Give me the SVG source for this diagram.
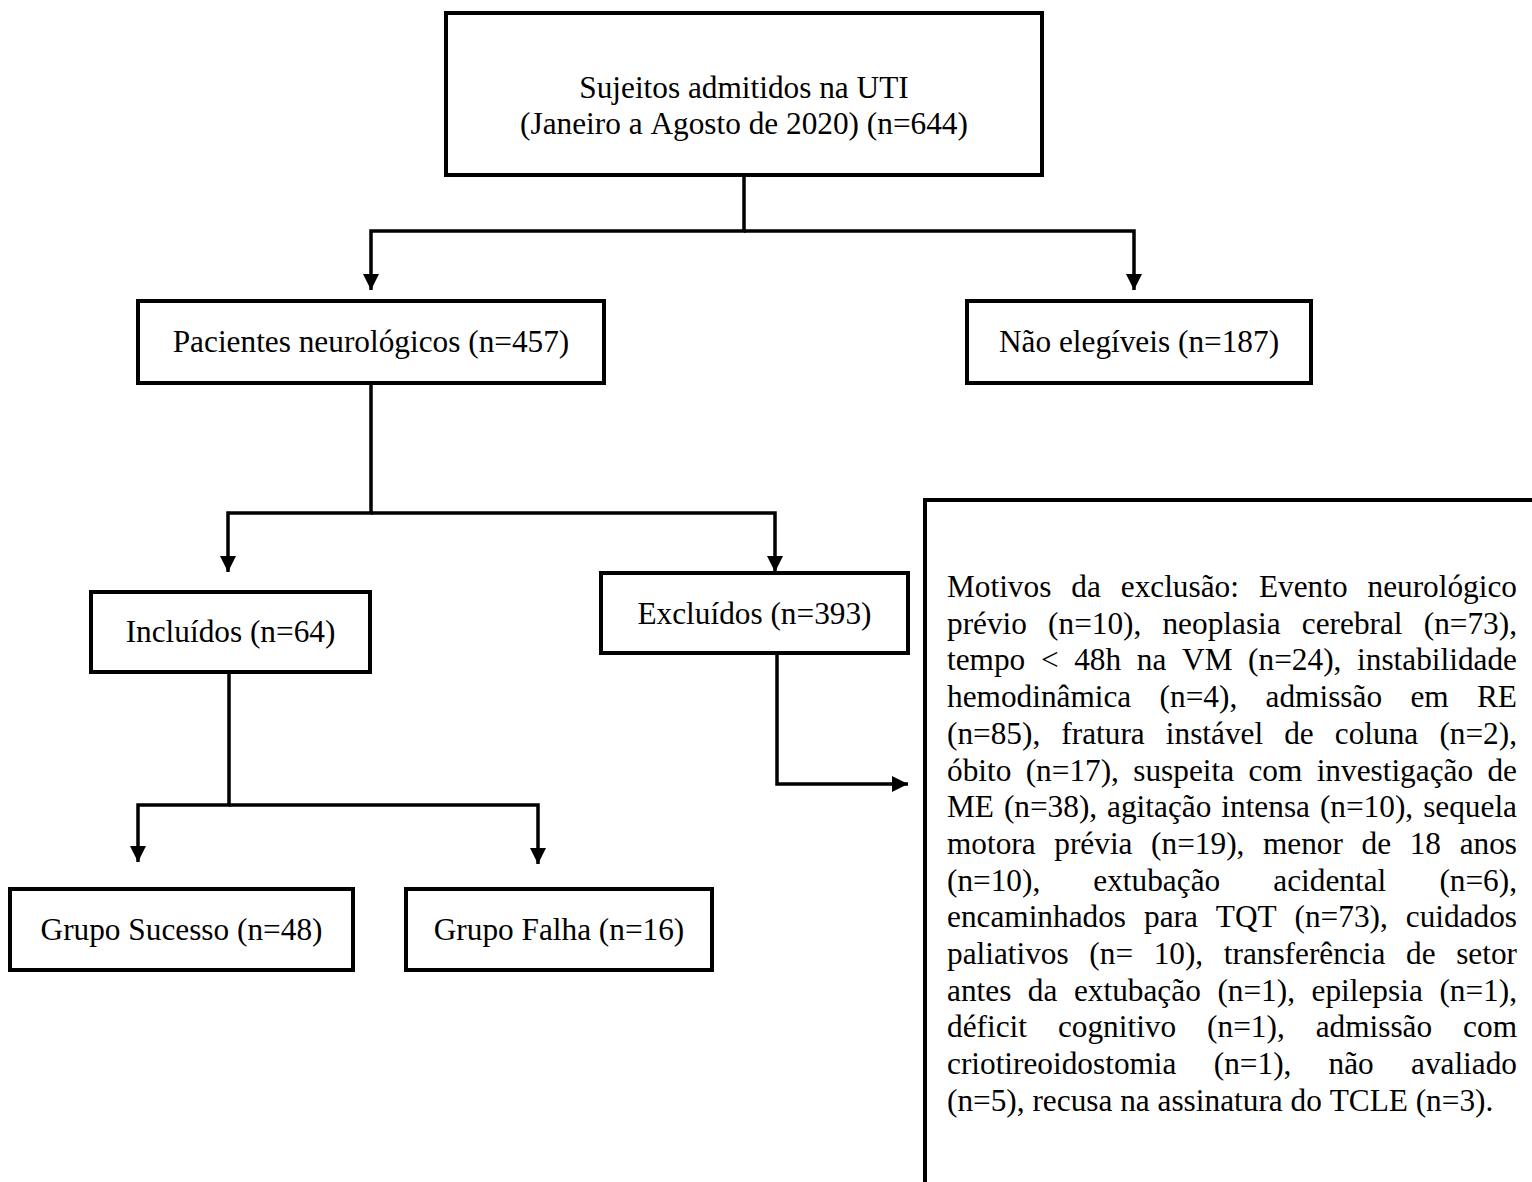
<svg xmlns="http://www.w3.org/2000/svg" width="1532" height="1182" viewBox="0 0 1532 1182">
<defs>
<style>
.box{fill:#fff;stroke:#000;stroke-width:4}
.t{font-family:"Liberation Serif","Times New Roman",serif;font-size:31.3px;fill:#000;font-kerning:none}
.c{text-anchor:middle}
.e{text-anchor:end}
.ln{fill:none;stroke:#000;stroke-width:3.5;stroke-linejoin:miter}
</style>
<marker id="ah" markerUnits="userSpaceOnUse" markerWidth="18" markerHeight="18" refX="16" refY="8" orient="auto">
<path d="M0,0 L16,8 L0,16 Z" fill="#000"/>
</marker>
</defs>
<rect width="1532" height="1182" fill="#fff"/>
<g id="connectors">
<path class="ln" d="M744,175 V231 H371 V290" marker-end="url(#ah)"/>
<path class="ln" d="M744,231 H1134 V290" marker-end="url(#ah)"/>
<path class="ln" d="M371,383 V513 H228 V572" marker-end="url(#ah)"/>
<path class="ln" d="M371,513 H775 V572" marker-end="url(#ah)"/>
<path class="ln" d="M229,672 V805 H138 V862" marker-end="url(#ah)"/>
<path class="ln" d="M229,805 H538 V864" marker-end="url(#ah)"/>
<path class="ln" d="M777,653 V784 H908" marker-end="url(#ah)"/>
</g>
<g id="admitidos">
<rect class="box" x="446" y="13" width="596" height="162"/>
<text class="t c" x="744" y="98">Sujeitos admitidos na UTI</text>
<text class="t c" x="744" y="134">(Janeiro a Agosto de 2020) (n=644)</text>
</g>
<g id="neurologicos">
<rect class="box" x="138" y="301" width="466" height="82"/>
<text class="t c" x="371" y="352">Pacientes neurológicos (n=457)</text>
</g>
<g id="nao-elegiveis">
<rect class="box" x="967" y="301" width="344" height="82"/>
<text class="t c" x="1139" y="352">Não elegíveis (n=187)</text>
</g>
<g id="incluidos">
<rect class="box" x="91" y="592" width="279" height="80"/>
<text class="t c" x="230.5" y="642">Incluídos (n=64)</text>
</g>
<g id="excluidos">
<rect class="box" x="601" y="573" width="307" height="80"/>
<text class="t c" x="754.5" y="624">Excluídos (n=393)</text>
</g>
<g id="sucesso">
<rect class="box" x="10" y="889" width="343" height="81"/>
<text class="t c" x="181.5" y="940">Grupo Sucesso (n=48)</text>
</g>
<g id="falha">
<rect class="box" x="406" y="889" width="306" height="81"/>
<text class="t c" x="559" y="940">Grupo Falha (n=16)</text>
</g>
<g id="motivos">
<rect class="box" x="925" y="500" width="700" height="800"/>
<text class="t" y="597"><tspan x="947">Motivos</tspan><tspan x="1071.27">da</tspan><tspan x="1120.74">exclusão:</tspan><tspan x="1258.88">Evento</tspan><tspan class="e" x="1517">neurológico</tspan></text>
<text class="t" y="633.7"><tspan x="947">prévio</tspan><tspan x="1048.09">(n=10),</tspan><tspan x="1162.48">neoplasia</tspan><tspan x="1301.82">cerebral</tspan><tspan class="e" x="1517">(n=73),</tspan></text>
<text class="t" y="670.4"><tspan x="947">tempo</tspan><tspan x="1040.91">&lt;</tspan><tspan x="1074.22">48h</tspan><tspan x="1136.83">na</tspan><tspan x="1182.04">VM</tspan><tspan x="1248.12">(n=24),</tspan><tspan class="e" x="1517">instabilidade</tspan></text>
<text class="t" y="707.1"><tspan x="947">hemodinâmica</tspan><tspan x="1159.62">(n=4),</tspan><tspan x="1265.57">admissão</tspan><tspan x="1410.4">em</tspan><tspan class="e" x="1517">RE</tspan></text>
<text class="t" y="743.8"><tspan x="947">(n=85),</tspan><tspan x="1061.33">fratura</tspan><tspan x="1165.8">instável</tspan><tspan x="1284.23">de</tspan><tspan x="1334.84">coluna</tspan><tspan class="e" x="1517">(n=2),</tspan></text>
<text class="t" y="780.5"><tspan x="947">óbito</tspan><tspan x="1025.67">(n=17),</tspan><tspan x="1133.26">suspeita</tspan><tspan x="1248.43">com</tspan><tspan x="1316.65">investigação</tspan><tspan class="e" x="1517">de</tspan></text>
<text class="t" y="817.2"><tspan x="947">ME</tspan><tspan x="1003.88">(n=38),</tspan><tspan x="1107.08">agitação</tspan><tspan x="1221.3">intensa</tspan><tspan x="1319.9">(n=10),</tspan><tspan class="e" x="1517">sequela</tspan></text>
<text class="t" y="853.9"><tspan x="947">motora</tspan><tspan x="1054.28">prévia</tspan><tspan x="1151.11">(n=19),</tspan><tspan x="1262.99">menor</tspan><tspan x="1361.57">de</tspan><tspan x="1409.73">18</tspan><tspan class="e" x="1517">anos</tspan></text>
<text class="t" y="890.6"><tspan x="947">(n=10),</tspan><tspan x="1093.34">extubação</tspan><tspan x="1273.3">acidental</tspan><tspan class="e" x="1517">(n=6),</tspan></text>
<text class="t" y="927.3"><tspan x="947">encaminhados</tspan><tspan x="1143.99">para</tspan><tspan x="1215.78">TQT</tspan><tspan x="1294.55">(n=73),</tspan><tspan class="e" x="1517">cuidados</tspan></text>
<text class="t" y="964"><tspan x="947">paliativos</tspan><tspan x="1089.32">(n=</tspan><tspan x="1153.64">10),</tspan><tspan x="1223.78">transferência</tspan><tspan x="1406">de</tspan><tspan class="e" x="1517">setor</tspan></text>
<text class="t" y="1000.7"><tspan x="947">antes</tspan><tspan x="1027.86">da</tspan><tspan x="1073.95">extubação</tspan><tspan x="1217.38">(n=1),</tspan><tspan x="1311.54">epilepsia</tspan><tspan class="e" x="1517">(n=1),</tspan></text>
<text class="t" y="1037.4"><tspan x="947">déficit</tspan><tspan x="1057.91">cognitivo</tspan><tspan x="1207.1">(n=1),</tspan><tspan x="1315.66">admissão</tspan><tspan class="e" x="1517">com</tspan></text>
<text class="t" y="1074.1"><tspan x="947">criotireoidostomia</tspan><tspan x="1213.77">(n=1),</tspan><tspan x="1328.57">não</tspan><tspan class="e" x="1517">avaliado</tspan></text>
<text class="t" x="947" y="1110.8">(n=5), recusa na assinatura do TCLE (n=3).</text>
</g>
</svg>
